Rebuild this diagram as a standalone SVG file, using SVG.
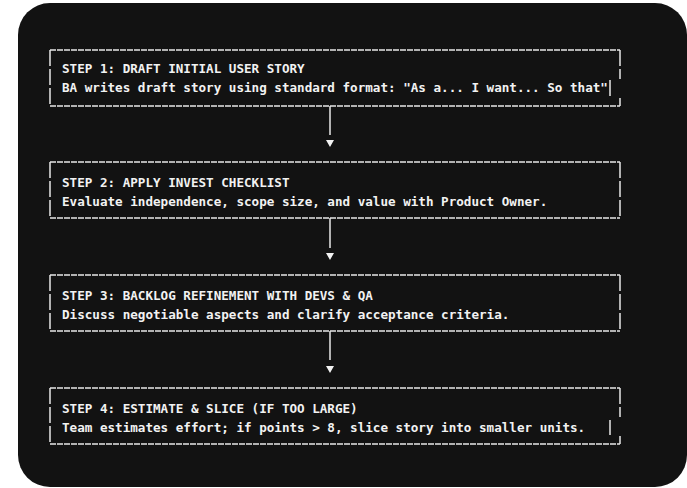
<svg xmlns="http://www.w3.org/2000/svg" width="687" height="488" viewBox="0 0 687 488">
<style>
.b{fill:none;stroke:#e8e8e8;stroke-width:1.5}
.h{stroke-dasharray:6 1}
.v{stroke-dasharray:16 3}
text{font-family:"DejaVu Sans Mono","Liberation Mono",monospace;font-size:12.6px;fill:#f2f2f2;font-weight:600}
</style>
<rect width="687" height="488" fill="#fff"/>
<rect x="18" y="3" width="669" height="484" rx="32" fill="#121212"/>
<g id="step1">
<path class="b h" d="M50 50H620M50 106H620"/>
<path class="b v" d="M50 50V106M620 50V79M620 98V106"/>
<line class="b" x1="610" y1="80" x2="610" y2="96"/>
<text x="62" y="73">STEP 1: DRAFT INITIAL USER STORY</text>
<text x="62" y="92">BA writes draft story using standard format: "As a... I want... So that"</text>
</g>
<g id="step2">
<path class="b h" d="M50 162H620M50 218H620"/>
<path class="b v" d="M50 162V218M620 162V218"/>
<text x="62" y="187">STEP 2: APPLY INVEST CHECKLIST</text>
<text x="62" y="206">Evaluate independence, scope size, and value with Product Owner.</text>
</g>
<g id="step3">
<path class="b h" d="M50 275H620M50 331H620"/>
<path class="b v" d="M50 275V331M620 275V331"/>
<text x="62" y="300">STEP 3: BACKLOG REFINEMENT WITH DEVS &amp; QA</text>
<text x="62" y="319">Discuss negotiable aspects and clarify acceptance criteria.</text>
</g>
<g id="step4">
<path class="b h" d="M50 388H620M50 444H620"/>
<path class="b v" d="M50 388V444M620 388V417M620 436V444"/>
<line class="b" x1="610" y1="420" x2="610" y2="435"/>
<text x="62" y="413">STEP 4: ESTIMATE &amp; SLICE (IF TOO LARGE)</text>
<text x="62" y="432">Team estimates effort; if points &gt; 8, slice story into smaller units.</text>
</g>
<g id="connectors">
<path class="b" d="M330 106V135M330 218V248M330 331V360"/>
<path d="M326 140H334L330 147Z M326 253H334L330 260Z M326 366H334L330 373Z" fill="#f2f2f2"/>
</g>
</svg>
